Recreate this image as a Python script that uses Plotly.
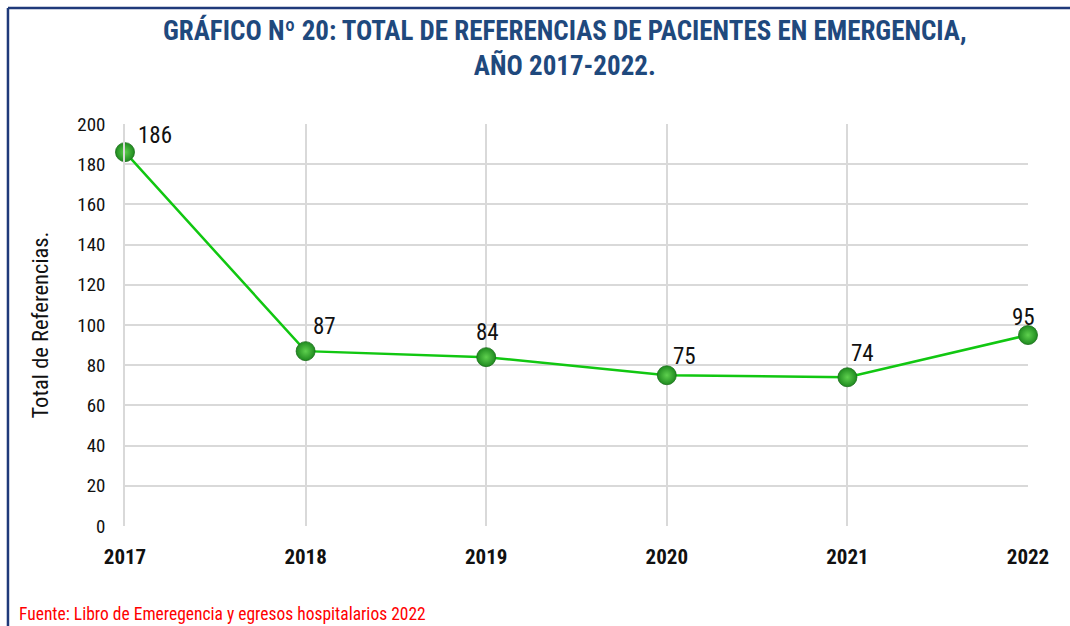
import plotly.graph_objects as go

years = [2017, 2018, 2019, 2020, 2021, 2022]
totals = [186, 87, 84, 75, 74, 95]
label_dx = [30, 19, 1, 18, 15, -5]
label_dy = [17, 25, 25, 19, 24, 18]
y_ticks = [0, 20, 40, 60, 80, 100, 120, 140, 160, 180, 200]

NARROW = "Liberation Sans Narrow, Arial Narrow, Roboto Condensed, DejaVu Sans Condensed, sans-serif"

fig = go.Figure()
fig.add_trace(go.Scatter(
    x=years, y=totals, mode="lines+markers",
    line=dict(color="#11C711", width=2.5),
    marker=dict(size=19, color="#1F8A1F",
                gradient=dict(type="radial", color="#5ED04E"),
                line=dict(color="#1A6E1A", width=0.8)),
    cliponaxis=False, showlegend=False, hoverinfo="x+y",
))

annotations = [
    dict(text=str(v), x=x, y=v, xref="x", yref="y", xshift=dx, yshift=dy,
         showarrow=False, xanchor="center", yanchor="middle",
         font=dict(family=NARROW, size=23, color="#111111"))
    for x, v, dx, dy in zip(years, totals, label_dx, label_dy)
]
annotations.append(dict(
    text="<b>GRÁFICO Nº 20: TOTAL DE REFERENCIAS DE PACIENTES EN EMERGENCIA,<br>AÑO 2017-2022.</b>",
    xref="paper", yref="paper", x=0.487, y=1.188, xanchor="center", yanchor="middle",
    showarrow=False, font=dict(family=NARROW, size=27, color="#1F497D")))
annotations.append(dict(
    text="Fuente: Libro de Emeregencia y egresos hospitalarios 2022",
    xref="paper", yref="paper", x=-0.1196, y=-0.22, xanchor="left", yanchor="middle",
    showarrow=False, font=dict(family=NARROW, size=17.5, color="#FF0000")))

fig.update_layout(
    width=1070, height=626,
    paper_bgcolor="white", plot_bgcolor="white",
    margin=dict(l=125, r=42, t=124, b=100),
    xaxis=dict(
        range=[2017, 2022], tickvals=years, ticktext=[str(y) for y in years],
        showgrid=True, gridcolor="#D9D9D9", gridwidth=1.5,
        zeroline=False, showline=False, ticks="",
        tickfont=dict(family=NARROW, size=21, color="#111111", weight="bold"),
        ticklabelstandoff=16,
    ),
    yaxis=dict(
        range=[0, 200], tickvals=y_ticks,
        showgrid=True, gridcolor="#D9D9D9", gridwidth=1.5,
        zeroline=False, showline=True, linecolor="#D9D9D9", linewidth=1.5,
        ticks="", tickfont=dict(family=NARROW, size=19, color="#111111"),
        ticklabelstandoff=14,
        title=dict(text="Total de Referencias.", font=dict(family=NARROW, size=22.5, color="#111111"), standoff=22),
    ),
    shapes=[
        dict(type="line", xref="paper", yref="paper", x0=-0.1296, x1=1.06, y0=1.2886, y1=1.2886,
             line=dict(color="#1F3A7A", width=2.5)),
        dict(type="line", xref="paper", yref="paper", x0=-0.1296, x1=-0.1296, y0=1.2886, y1=-0.3,
             line=dict(color="#1F3A7A", width=2.5)),
    ],
    annotations=annotations,
)

fig.write_html("out.html", config={"displayModeBar": False},
               post_script="document.body.style.margin='0px';")
